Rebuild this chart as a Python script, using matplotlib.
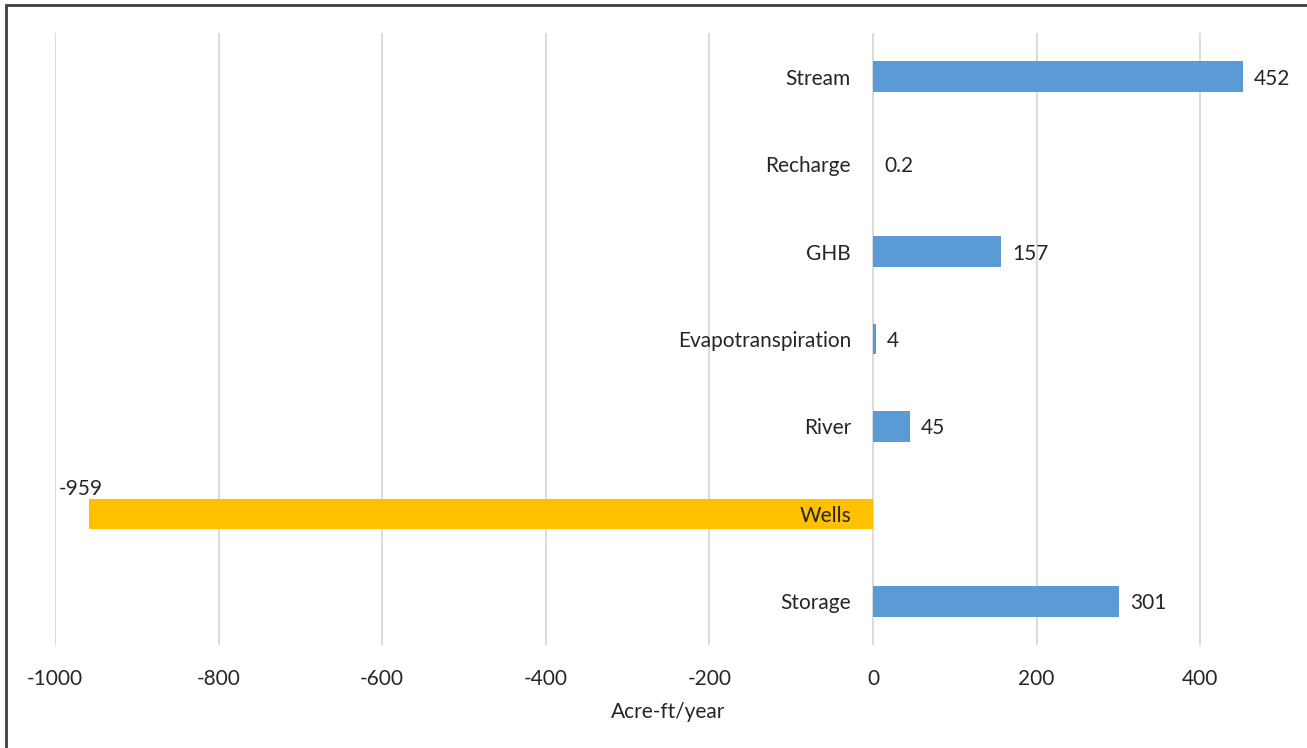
import matplotlib
matplotlib.use("Agg")
import matplotlib.pyplot as plt
from matplotlib.patches import Rectangle

categories = ["Stream", "Recharge", "GHB", "Evapotranspiration", "River", "Wells", "Storage"]
values = [452, 0.2, 157, 4, 45, -959, 301]
value_labels = ["452", "0.2", "157", "4", "45", "-959", "301"]
xticks = [-1000, -800, -600, -400, -200, 0, 200, 400]

plt.rcParams['font.family'] = ['Lato', 'DejaVu Sans']

W, H = 1307, 748
FS = 15
fig = plt.figure(figsize=(W / 100, H / 100), dpi=100)
ax = fig.add_axes([55 / W, 1 - 645 / H, (1282 - 55) / W, (645 - 33) / H])

blue = "#5B9BD5"
gold = "#FFC000"
ypos = list(range(len(categories)))
colors = [gold if v < 0 else blue for v in values]
ax.barh(ypos, values, height=0.35, color=colors, zorder=3)

ax.set_ylim(len(categories) - 0.5, -0.5)
ax.set_xlim(-1000, 500)
ax.set_xticks(xticks)
ax.set_xticklabels([str(t) for t in xticks], fontsize=FS, color="#262626")
ax.tick_params(axis='x', length=0, pad=17)
ax.set_yticks([])
for s in ax.spines.values():
    s.set_visible(False)
ax.grid(axis='x', color="#D9D9D9", linewidth=1.3, zorder=0)
ax.set_axisbelow(True)
ax.set_xlabel("Acre-ft/year", fontsize=FS, color="#262626", labelpad=10)

for y, cat, v, lab in zip(ypos, categories, values, value_labels):
    ax.annotate(cat, xy=(0, y), xytext=(-22, -2), textcoords='offset pixels',
                ha='right', va='center', fontsize=FS, color="#262626", zorder=5)
    if v >= 0:
        ax.annotate(lab, xy=(v, y), xytext=(11, -2), textcoords='offset pixels',
                    ha='left', va='center', fontsize=FS, color="#262626", zorder=5)
    else:
        ax.annotate(lab, xy=(v, y - 0.175), xytext=(-8, 0), textcoords='offset pixels',
                    ha='center', va='bottom', fontsize=FS, color="#262626", zorder=5)

fig.patches.append(Rectangle((6 / W, -0.1), 1.2, 1 - 5 / H + 0.1, transform=fig.transFigure,
                             fill=False, edgecolor="#3F3F3F", linewidth=2))

fig.savefig("out.png", dpi=100)
